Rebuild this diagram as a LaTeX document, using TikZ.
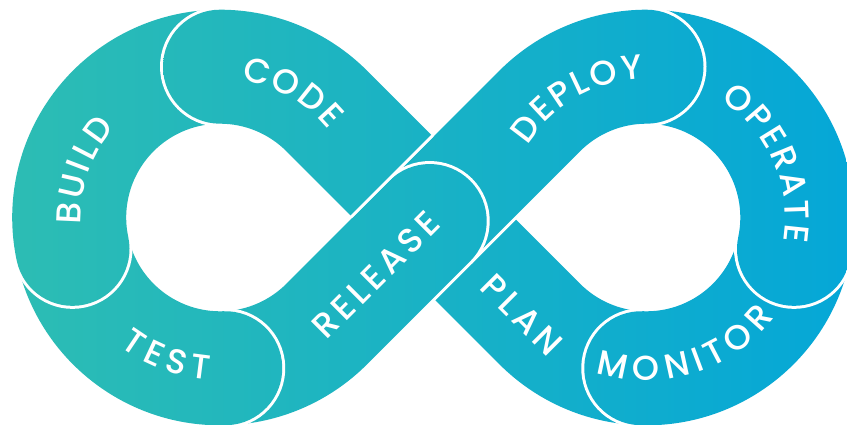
\documentclass[tikz,border=0pt]{standalone}
\usepackage{fontspec}
\usetikzlibrary{decorations.text}
\newfontfamily\labfontfam{Poppins Medium}
\newcommand\labfont{\labfontfam\fontsize{34.5}{34.5}\selectfont}
\definecolor{gL}{RGB}{45,189,179}
\definecolor{gR}{RGB}{5,167,215}
% geometry (units = px, y up)
\def\cy{207.5}
\def\xa{220}
\def\xb{646.5}
\def\rc{150.8}
\def\Ro{207.8}
\def\ri{93.8}
\def\hw{57}
\def\tk{4.5pt}
% CCW ring segment on the left circle, front cap at #2
\newcommand\ringL[2]{({\xa+\Ro*cos(#1)},{\cy+\Ro*sin(#1)}) arc[start angle=#1,end angle=#2,radius=\Ro pt] arc[start angle=#2,end angle={#2+180},radius=\hw pt] arc[start angle=#2,end angle=#1,radius=\ri pt] -- cycle}
% CW ring segment on the right circle, front cap at #2
\newcommand\ringR[2]{({\xb+\Ro*cos(#1)},{\cy+\Ro*sin(#1)}) arc[start angle=#1,end angle=#2,radius=\Ro pt] arc[start angle=#2,end angle={#2-180},radius=\hw pt] arc[start angle=#2,end angle=#1,radius=\ri pt] -- cycle}
\newcommand\regPlan{({\xb+\Ro*cos(-92)},{\cy+\Ro*sin(-92)}) arc[start angle=-92,end angle=-135,radius=\Ro pt] -- (349.81,210.32) -- (430.43,290.94) -- ({\xb+\ri*cos(-135)},{\cy+\ri*sin(-135)}) arc[start angle=-135,end angle=-92,radius=\ri pt] -- cycle}
\newcommand\regDeploy{(389.40,244.27) -- ({\xb+\Ro*cos(135)},{\cy+\Ro*sin(135)}) arc[start angle=135,end angle=90,radius=\Ro pt] arc[start angle=90,end angle=-90,radius=\hw pt] arc[start angle=90,end angle=135,radius=\ri pt] -- (470.02,163.65) -- cycle}
\newcommand\regRelease{({\xa+\Ro*cos(-88)},{\cy+\Ro*sin(-88)}) arc[start angle=-88,end angle=-45,radius=\Ro pt] -- (470.02,163.65) arc[start angle=-45,end angle=135,radius=\hw pt] -- ({\xa+\ri*cos(-45)},{\cy+\ri*sin(-45)}) arc[start angle=-45,end angle=-88,radius=\ri pt] -- cycle}
\newcommand\regCode{(431.13,290.24) -- ({\xa+\Ro*cos(45)},{\cy+\Ro*sin(45)}) arc[start angle=45,end angle=90,radius=\Ro pt] arc[start angle=90,end angle=270,radius=\hw pt] arc[start angle=90,end angle=45,radius=\ri pt] -- (350.51,209.62) -- cycle}
\newcommand\segment[1]{%
  \path[draw=white,line width=6pt,line join=round] #1;
  \begin{scope}\clip #1;
    \shade[left color=gL,right color=gR] (0,0) rectangle (847,425);
  \end{scope}}
\tikzset{
  label/.style={decorate,decoration={text along path,text align=center,raise=-12pt,text={#1}}}
}
\begin{document}
\begin{tikzpicture}[x=1pt,y=1pt]
\useasboundingbox (0,0) rectangle (847,425);
\fill[white] (0,0) rectangle (847,425);
\segment{\regPlan}
\segment{\ringR{-12}{-92}}
\segment{\ringR{90}{-12}}
\segment{\regDeploy}
\segment{\regRelease}
\segment{\ringL{192}{272}}
\segment{\ringL{90}{192}}
\segment{\regCode}
% labels
\path[label={|\labfont\color{white}|{C\kern\tk}{O\kern\tk}{D\kern\tk}E}]
  ({\xa+\rc*cos(110)},{\cy+\rc*sin(110)}) arc[start angle=110,end angle=10,radius=\rc pt];
\path[label={|\labfont\color{white}|{B\kern\tk}{U\kern\tk}{I\kern\tk}{L\kern\tk}D}]
  ({\xa+\rc*cos(211)},{\cy+\rc*sin(211)}) arc[start angle=211,end angle=111,radius=\rc pt];
\path[label={|\labfont\color{white}|{T\kern\tk}{E\kern\tk}{S\kern\tk}T}]
  ({\xa+\rc*cos(199)},{\cy+\rc*sin(199)}) arc[start angle=199,end angle=299,radius=\rc pt];
\path[label={|\labfont\color{white}|{R\kern\tk}{E\kern\tk}{L\kern\tk}{E\kern\tk}{A\kern\tk}{S\kern\tk}E}]
  (305.4,79.7) -- (446.8,221.1);
\path[label={|\labfont\color{white}|{D\kern\tk}{E\kern\tk}{P\kern\tk}{L\kern\tk}{O\kern\tk}Y}]
  ({\xb+\rc*cos(170)},{\cy+\rc*sin(170)}) arc[start angle=170,end angle=70,radius=\rc pt];
\path[label={|\labfont\color{white}|{O\kern\tk}{P\kern\tk}{E\kern\tk}{R\kern\tk}{A\kern\tk}{T\kern\tk}E}]
  ({\xb+\rc*cos(74)},{\cy+\rc*sin(74)}) arc[start angle=74,end angle=-26,radius=\rc pt];
\path[label={|\labfont\color{white}|{M\kern\tk}{O\kern\tk}{N\kern\tk}{I\kern\tk}{T\kern\tk}{O\kern\tk}R}]
  ({\xb+\rc*cos(237)},{\cy+\rc*sin(237)}) arc[start angle=237,end angle=337,radius=\rc pt];
\path[label={|\labfont\color{white}|{P\kern\tk}{L\kern\tk}{A\kern\tk}N}]
  (451.3,180.7) -- (592.7,39.3);
\end{tikzpicture}
\end{document}
